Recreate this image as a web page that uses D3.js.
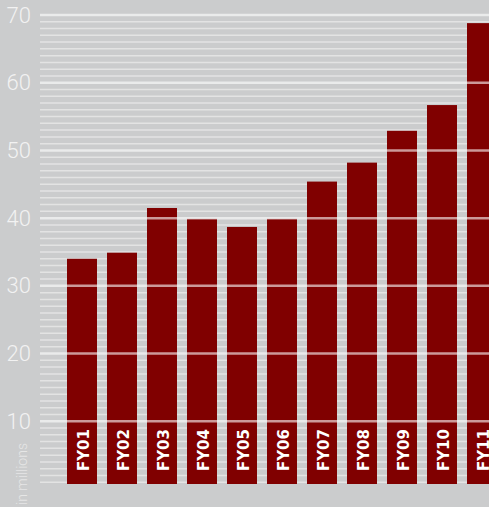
<!DOCTYPE html>
<html>
<head>
<meta charset="utf-8">
<script src="https://cdn.jsdelivr.net/npm/d3@7"></script>
<style>
    html, body { margin: 0; padding: 0; background: #cbcccd; overflow: hidden; }
</style>
</head>
<body>
<div id="chart"></div>
<script>
// data
const years = ["FY01", "FY02", "FY03", "FY04", "FY05", "FY06", "FY07", "FY08", "FY09", "FY10", "FY11"];
const revenue = [34.0, 34.9, 41.5, 39.9, 38.7, 39.9, 45.4, 48.2, 52.9, 56.7, 68.8];
const majorTicks = [10, 20, 30, 40, 50, 60, 70];
const minorTicks = d3.range(1, 70).filter(v => v % 10 != 0);
const unitLabel = "in millions";

const WIDTH = 489,
    HEIGHT = 507;

const gridLeft = 40,
    baseline = 484;

const svg = d3.select("#chart")
    .append("svg")
    .attr("width", WIDTH)
    .attr("height", HEIGHT);

svg.append("rect")
    .attr("width", WIDTH)
    .attr("height", HEIGHT)
    .attr("fill", "#cbcccd");

const yScale = d3.scaleLinear()
    .domain([0, 70])
    .range([489, 15]);

const xScale = d3.scaleBand()
    .domain(years)
    .range([62, 502])
    .paddingInner(0.25)
    .paddingOuter(0.125);

// minor lines sit behind the bars
svg.append("g")
    .selectAll("line")
    .data(minorTicks)
    .join("line")
    .attr("x1", gridLeft)
    .attr("x2", WIDTH)
    .attr("y1", d => yScale(d))
    .attr("y2", d => yScale(d))
    .attr("stroke", "#e3e3e3")
    .attr("stroke-width", 1.5);

svg.append("g")
    .selectAll("rect")
    .data(years)
    .join("rect")
    .attr("x", d => xScale(d))
    .attr("width", xScale.bandwidth())
    .attr("y", (d, i) => yScale(revenue[i]))
    .attr("height", (d, i) => baseline - yScale(revenue[i]))
    .attr("fill", "#800000");

// major lines go over the bars, half see-through
svg.append("g")
    .selectAll("line")
    .data(majorTicks)
    .join("line")
    .attr("x1", gridLeft)
    .attr("x2", WIDTH)
    .attr("y1", d => yScale(d))
    .attr("y2", d => yScale(d))
    .attr("stroke", "#ffffff")
    .attr("stroke-opacity", 0.6)
    .attr("stroke-width", 2.5);

svg.append("g")
    .selectAll("text")
    .data(majorTicks)
    .join("text")
    .attr("x", 31)
    .attr("y", d => yScale(d) + 7.5)
    .attr("text-anchor", "end")
    .attr("font-family", "Roboto, 'Open Sans', sans-serif")
    .attr("font-weight", 300)
    .attr("font-size", 22)
    .attr("fill", "#f2f2f2")
    .text(d => d);

svg.append("text")
    .attr("transform", "translate(27, 443) rotate(-90)")
    .attr("text-anchor", "end")
    .attr("font-family", "Roboto, 'Open Sans', sans-serif")
    .attr("font-weight", 300)
    .attr("font-size", 14)
    .attr("fill", "#e6e6e6")
    .text(unitLabel);

// year labels inside the bars
svg.append("g")
    .selectAll("text")
    .data(years)
    .join("text")
    .attr("transform", d => `translate(${xScale(d) + xScale.bandwidth() / 2 + 6.5}, ${baseline - 13}) rotate(-90)`)
    .attr("font-family", "'DejaVu Sans', sans-serif")
    .attr("font-weight", "bold")
    .attr("font-size", 15)
    .attr("fill", "#ffffff")
    .text(d => d);
</script>
</body>
</html>
